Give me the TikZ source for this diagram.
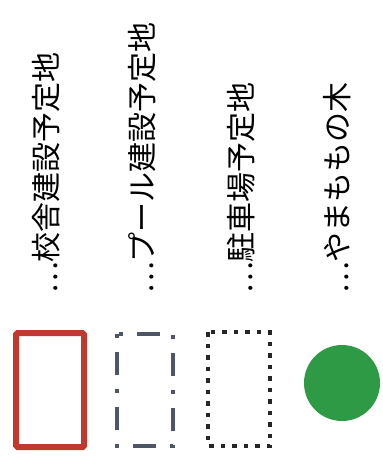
\documentclass[tikz,border=0pt]{standalone}
\usepackage{fontspec}
\newfontfamily\jp{Noto Sans CJK JP}
\definecolor{legred}{HTML}{C0392F}
\definecolor{leggray}{HTML}{4E5666}
\definecolor{leggreen}{HTML}{2E9A45}
\begin{document}
\begin{tikzpicture}[x=1pt,y=-1pt,
  lbl/.style={rotate=90,anchor=west,inner sep=0pt,font=\jp\fontsize{30}{30}\selectfont},
  legsym/.style={line join=miter}]
\useasboundingbox (0,0) rectangle (382,462);
\node[lbl] (t1) at (46,294) {…校舎建設予定地};
\node[lbl] (t2) at (142,294) {…プール建設予定地};
\node[lbl] (t3) at (241,294) {…駐車場予定地};
\node[lbl] (t4) at (337,294) {…やまももの木};
\draw[legred,line width=6pt,rounded corners=1.5pt] (16,333) rectangle (84,447);
\draw[leggray,line width=4pt,dash pattern=on 4pt off 14pt on 23pt off 14pt] (117,334) -- (117,446) -- (173,446) -- (173,334) -- cycle;
\draw[black!85,line width=4.5pt,dash pattern=on 4.5pt off 7pt] (208,332) -- (208,446) -- (270,446) -- (270,332) -- cycle;
\fill[leggreen] (342,383) circle (38);
\end{tikzpicture}
\end{document}
